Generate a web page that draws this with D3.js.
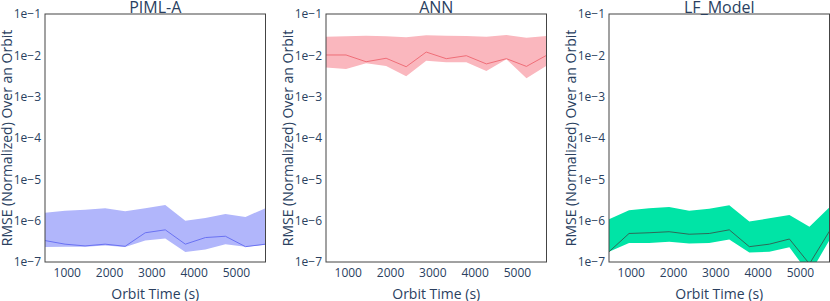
<!DOCTYPE html>
<html lang="en">
<head>
  <meta charset="UTF-8">
  <title>RMSE over an orbit</title>
  <script src="https://d3js.org/d3.v7.min.js"></script>
  <style>
    body { margin: 0; background: #fff; }
    svg text { font-family: "Open Sans", sans-serif; fill: #2a3f5f; }
  </style>
</head>
<body>
  <div id="chart"></div>
  <script>
    // orbit times (s)
    const times = [474, 948, 1422, 1896, 2370, 2844, 3318, 3792, 4266, 4740, 5214, 5688];

    const models = ["PIML-A", "ANN", "LF_Model"];

    const pimlMean  = [3.3e-7, 2.7e-7, 2.45e-7, 2.7e-7, 2.4e-7, 5.1e-7, 6.0e-7, 2.7e-7, 3.9e-7, 4.2e-7, 2.35e-7, 2.7e-7];
    const pimlLower = [2.3e-7, 2.35e-7, 2.35e-7, 2.5e-7, 2.3e-7, 3.3e-7, 3.7e-7, 1.75e-7, 2.0e-7, 2.7e-7, 2.35e-7, 2.6e-7];
    const pimlUpper = [1.56e-6, 1.74e-6, 1.84e-6, 2.0e-6, 1.68e-6, 2.0e-6, 2.4e-6, 1.0e-6, 1.16e-6, 1.45e-6, 1.23e-6, 2.0e-6];

    const annMean  = [1.02e-2, 1.02e-2, 7.0e-3, 8.5e-3, 5.3e-3, 1.2e-2, 8.3e-3, 9.8e-3, 6.2e-3, 8.3e-3, 5.4e-3, 1.0e-2];
    const annLower = [5.1e-3, 4.7e-3, 6.4e-3, 5.5e-3, 3.1e-3, 7.4e-3, 6.8e-3, 6.8e-3, 4.2e-3, 8.0e-3, 2.8e-3, 5.6e-3];
    const annUpper = [2.82e-2, 2.89e-2, 2.99e-2, 2.89e-2, 2.73e-2, 3.05e-2, 2.99e-2, 2.94e-2, 2.82e-2, 3.1e-2, 2.67e-2, 2.94e-2];

    const lfMean  = [1.77e-7, 4.9e-7, 5.1e-7, 5.4e-7, 4.7e-7, 4.9e-7, 6.0e-7, 2.35e-7, 2.7e-7, 3.6e-7, 9e-8, 5.6e-7];
    const lfLower = [1.77e-7, 2.9e-7, 2.9e-7, 3.1e-7, 2.8e-7, 2.9e-7, 3.5e-7, 1.7e-7, 1.77e-7, 2.26e-7, 5e-8, 3.4e-7];
    const lfUpper = [1.08e-6, 1.78e-6, 1.99e-6, 2.14e-6, 1.74e-6, 1.95e-6, 2.35e-6, 9.6e-7, 1.14e-6, 1.37e-6, 7.1e-7, 2.1e-6];

    const yTicks = [1e-7, 1e-6, 1e-5, 1e-4, 1e-3, 1e-2, 1e-1];
    const yTickLabels = ["1e\u22127", "1e\u22126", "1e\u22125", "1e\u22124", "1e\u22123", "1e\u22122", "1e\u22121"];
    const xTicks = [1000, 2000, 3000, 4000, 5000];

    const series = [
      { mean: pimlMean, lower: pimlLower, upper: pimlUpper, band: "#b1b6fb", line: "#6a72f2" },
      { mean: annMean, lower: annLower, upper: annUpper, band: "#fab7be", line: "#ef6e78" },
      { mean: lfMean, lower: lfLower, upper: lfUpper, band: "#00e4a6", line: "#2e6a58" }
    ];

    const W = 830, H = 301;
    const lefts = [45, 326, 609], pw = 220.5, plotTop = 14, plotBottom = 262;

    const svg = d3.select("#chart").append("svg").attr("width", W).attr("height", H);

    const y = d3.scaleLog().domain([1e-7, 1e-1]).range([plotBottom, plotTop]);

    models.forEach((name, k) => {
      const s = series[k];
      const x0 = lefts[k];
      const x = d3.scaleLinear().domain([times[0], times[times.length - 1]]).range([x0, x0 + pw]);
      const g = svg.append("g");

      g.append("clipPath").attr("id", "clip" + k)
        .append("rect").attr("x", x0).attr("y", plotTop).attr("width", pw).attr("height", plotBottom - plotTop);

      const pts = times.map((t, i) => ({ t, m: s.mean[i], lo: s.lower[i], hi: s.upper[i] }));

      const area = d3.area().x(d => x(d.t)).y0(d => y(d.lo)).y1(d => y(d.hi));
      const line = d3.line().x(d => x(d.t)).y(d => y(d.m));

      const plot = g.append("g").attr("clip-path", `url(#clip${k})`);
      plot.append("path").datum(pts).attr("d", area).attr("fill", s.band);
      plot.append("path").datum(pts).attr("d", line).attr("fill", "none")
        .attr("stroke", s.line).attr("stroke-width", 1);

      g.append("rect").attr("x", x0).attr("y", plotTop).attr("width", pw).attr("height", plotBottom - plotTop)
        .attr("fill", "none").attr("stroke", "#444").attr("stroke-width", 1);

      // y tick labels
      g.selectAll(".yt").data(yTicks).join("text")
        .attr("x", x0 - 4).attr("y", d => y(d)).attr("dy", "0.35em")
        .attr("text-anchor", "end").style("font-size", "12px")
        .text((d, i) => yTickLabels[i]);

      // x tick labels
      g.selectAll(".xt").data(xTicks).join("text")
        .attr("x", d => x(d)).attr("y", 277.3)
        .attr("text-anchor", "middle").style("font-size", "12px")
        .text(d => d);

      // titles
      g.append("text").attr("x", x0 + pw / 2).attr("y", 12.5)
        .attr("text-anchor", "middle").style("font-size", "16px").text(name);

      g.append("text").attr("x", x0 + pw / 2).attr("y", 299)
        .attr("text-anchor", "middle").style("font-size", "14px").text("Orbit Time (s)");

      g.append("text")
        .attr("transform", `translate(${x0 - 33},${(plotTop + plotBottom) / 2}) rotate(-90)`)
        .attr("text-anchor", "middle").style("font-size", "14px")
        .text("RMSE (Normalized) Over an Orbit");
    });
  </script>
</body>
</html>
